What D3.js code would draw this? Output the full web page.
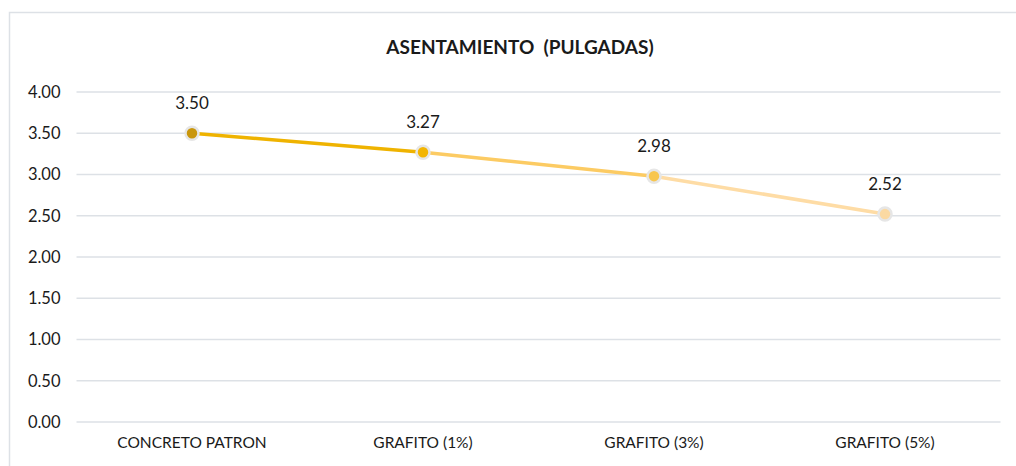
<!DOCTYPE html>
<html>
<head>
<meta charset="utf-8">
<script src="https://cdn.jsdelivr.net/npm/d3@7"></script>
<style>
  body { margin: 0; background: #fff; }
  text { font-family: Lato, "Open Sans", sans-serif; fill: #1a1a1a; }
</style>
</head>
<body>
<div id="chart"></div>
<script>
// data
var categories = ["CONCRETO PATRON", "GRAFITO (1%)", "GRAFITO (3%)", "GRAFITO (5%)"]
var values = [3.50, 3.27, 2.98, 2.52]
var yTicks = [0, 0.5, 1, 1.5, 2, 2.5, 3, 3.5, 4]
var pointColors = ["#C9960C", "#F3B502", "#F8C64E", "#FBD9A2"]
var segColors = ["#EFB300", "#FCCB63", "#FEDCA5"]

var W = 1016, H = 466
var svg = d3.select("#chart").append("svg")
    .attr("width", W).attr("height", H)

// outer frame
svg.append("path")
    .attr("d", "M9.5," + H + "V12.5H" + W)
    .attr("fill", "none")
    .attr("stroke", "#DDE1E6")
    .attr("stroke-width", 1.5)

svg.append("text")
    .attr("x", 520).attr("y", 54)
    .attr("text-anchor", "middle")
    .style("font-size", "19px")
    .style("font-weight", "bold")
    .style("white-space", "pre")
    .text("ASENTAMIENTO  (PULGADAS)")

var x = d3.scaleBand().domain(categories).range([76.5, 1000.5])
var y = d3.scaleLinear().domain([0, 4]).range([422, 92])

// gridlines
svg.append("g").selectAll("line").data(yTicks).enter().append("line")
    .attr("x1", 76.5).attr("x2", 1000.5)
    .attr("y1", function(d){ return y(d) }).attr("y2", function(d){ return y(d) })
    .attr("stroke", "#DDE1E6").attr("stroke-width", 1.5)

// y axis labels
var yAxis = d3.axisLeft(y).tickValues(yTicks).tickFormat(d3.format(".2f")).tickSize(0).tickPadding(16)
svg.append("g").attr("transform", "translate(76.5,0)").call(yAxis)
  .call(function(g){ g.select(".domain").remove() })
  .selectAll("text").style("font-size", "16.5px").style("font-family", "Lato, 'Open Sans', sans-serif").attr("fill", "#1a1a1a")

// x axis labels
var xAxis = d3.axisBottom(x).tickSize(0).tickPadding(15)
svg.append("g").attr("transform", "translate(0,422)").call(xAxis)
  .call(function(g){ g.select(".domain").remove() })
  .selectAll("text").style("font-size", "15.5px").style("font-family", "Lato, 'Open Sans', sans-serif").attr("fill", "#1a1a1a")

function cx(i) { return x(categories[i]) + x.bandwidth() / 2 }

// line segments, each coloured like its end point
svg.append("g").selectAll("line").data(values.slice(1)).enter().append("line")
    .attr("x1", function(d, i){ return cx(i) })
    .attr("y1", function(d, i){ return y(values[i]) })
    .attr("x2", function(d, i){ return cx(i + 1) })
    .attr("y2", function(d){ return y(d) })
    .attr("stroke", function(d, i){ return segColors[i] })
    .attr("stroke-width", 3.5)
    .attr("stroke-linecap", "round")

// markers
svg.append("g").selectAll("circle").data(values).enter().append("circle")
    .attr("cx", function(d, i){ return cx(i) })
    .attr("cy", function(d){ return y(d) })
    .attr("r", 6.5)
    .attr("fill", function(d, i){ return pointColors[i] })
    .attr("stroke", "#E6E6E6")
    .attr("stroke-width", 2.5)

// data labels
svg.append("g").selectAll("text").data(values).enter().append("text")
    .attr("x", function(d, i){ return cx(i) })
    .attr("y", function(d){ return y(d) - 24 })
    .attr("text-anchor", "middle")
    .style("font-size", "17px")
    .text(function(d){ return d3.format(".2f")(d) })
</script>
</body>
</html>
